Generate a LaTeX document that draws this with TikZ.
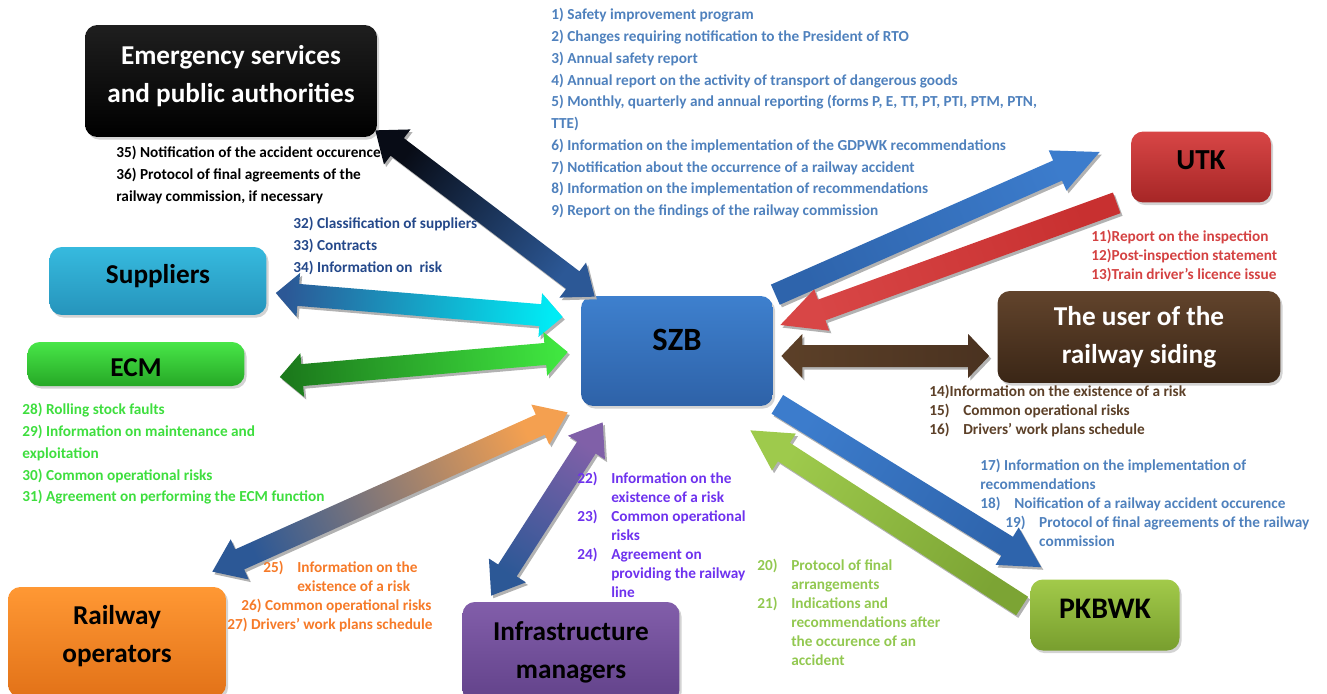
\documentclass[tikz,border=0pt]{standalone}
\usepackage{fontspec}
\setmainfont{Carlito}
\usetikzlibrary{calc, shadows, positioning}

\definecolor{szbTop}{RGB}{62,128,206}
\definecolor{szbBot}{RGB}{46,98,168}
\definecolor{suppTop}{RGB}{54,186,222}
\definecolor{suppBot}{RGB}{38,148,188}
\definecolor{ecmTop}{RGB}{72,230,72}
\definecolor{ecmBot}{RGB}{38,168,38}
\definecolor{operTop}{RGB}{255,152,52}
\definecolor{operBot}{RGB}{226,114,24}
\definecolor{infraTop}{RGB}{130,94,170}
\definecolor{infraBot}{RGB}{98,66,138}
\definecolor{utkTop}{RGB}{216,70,70}
\definecolor{utkBot}{RGB}{166,38,38}
\definecolor{userTop}{RGB}{98,68,44}
\definecolor{userBot}{RGB}{58,38,22}
\definecolor{pkbTop}{RGB}{162,202,74}
\definecolor{pkbBot}{RGB}{120,158,46}

\definecolor{txtBlue}{RGB}{79,129,189}
\definecolor{txtNavy}{RGB}{36,72,138}
\definecolor{txtGreen}{RGB}{62,222,62}
\definecolor{txtOrange}{RGB}{246,122,40}
\definecolor{txtViolet}{RGB}{110,50,238}
\definecolor{txtLime}{RGB}{146,200,80}
\definecolor{txtRed}{RGB}{212,66,66}
\definecolor{txtBrown}{RGB}{92,64,40}

\definecolor{arBlack}{RGB}{8,12,22}
\definecolor{arNavy}{RGB}{44,88,150}
\definecolor{arCyan}{RGB}{0,236,245}
\definecolor{arDkGreen}{RGB}{28,122,28}
\definecolor{arGreen}{RGB}{64,230,64}
\definecolor{arOrange}{RGB}{244,160,80}
\definecolor{arViolet}{RGB}{128,96,168}
\definecolor{arBlue}{RGB}{60,124,204}
\definecolor{arBlueDk}{RGB}{46,100,172}
\definecolor{arRed}{RGB}{200,48,48}
\definecolor{arRedLt}{RGB}{216,70,70}
\definecolor{arBrown}{RGB}{74,50,32}
\definecolor{arBrownLt}{RGB}{92,64,40}
\definecolor{arLime}{RGB}{124,164,52}
\definecolor{arLimeLt}{RGB}{158,202,76}

\newcommand{\headwd}{0.44cm}
\newcommand{\shaftwd}{0.22cm}
\newcommand{\num}[1]{\makebox[19.3pt][l]{#1}}
\newcommand{\ind}{\hspace*{19.3pt}}

% block arrow with two heads: [head length] colour at start, colour at end, start, end
\newcommand{\twoway}[5][0.5cm]{%
  \coordinate (ar-a) at #4;
  \coordinate (ar-b) at #5;
  \coordinate (ar-c) at ($(ar-a)!#1!(ar-b)$);
  \coordinate (ar-d) at ($(ar-b)!#1!(ar-a)$);
  \coordinate (ar-1) at ($(ar-c)!\headwd!90:(ar-b)$);
  \coordinate (ar-2) at ($(ar-c)!\shaftwd!90:(ar-b)$);
  \coordinate (ar-3) at ($(ar-d)!\shaftwd!-90:(ar-a)$);
  \coordinate (ar-4) at ($(ar-d)!\headwd!-90:(ar-a)$);
  \coordinate (ar-5) at ($(ar-d)!\headwd!90:(ar-a)$);
  \coordinate (ar-6) at ($(ar-d)!\shaftwd!90:(ar-a)$);
  \coordinate (ar-7) at ($(ar-c)!\shaftwd!-90:(ar-b)$);
  \coordinate (ar-8) at ($(ar-c)!\headwd!-90:(ar-b)$);
  \pgfmathanglebetweenpoints{\pgfpointanchor{ar-a}{center}}{\pgfpointanchor{ar-b}{center}}%
  \pgfmathsetmacro\arang{\pgfmathresult+90}%
  \fill[arshadow] (ar-a) -- (ar-1) -- (ar-2) -- (ar-3) -- (ar-4) -- (ar-b) -- (ar-5) -- (ar-6) -- (ar-7) -- (ar-8) -- cycle;
  \shade[top color=#2, bottom color=#3, shading angle=\arang] (ar-a) -- (ar-1) -- (ar-2) -- (ar-3) -- (ar-4) -- (ar-b) -- (ar-5) -- (ar-6) -- (ar-7) -- (ar-8) -- cycle;
}

% block arrow with one head at the end
\newcommand{\oneway}[5][0.85cm]{%
  \coordinate (ar-a) at #4;
  \coordinate (ar-b) at #5;
  \coordinate (ar-d) at ($(ar-b)!#1!(ar-a)$);
  \coordinate (ar-1) at ($(ar-a)!\shaftwd!90:(ar-b)$);
  \coordinate (ar-2) at ($(ar-d)!\shaftwd!-90:(ar-a)$);
  \coordinate (ar-3) at ($(ar-d)!\headwd!-90:(ar-a)$);
  \coordinate (ar-4) at ($(ar-d)!\headwd!90:(ar-a)$);
  \coordinate (ar-5) at ($(ar-d)!\shaftwd!90:(ar-a)$);
  \coordinate (ar-6) at ($(ar-a)!\shaftwd!-90:(ar-b)$);
  \pgfmathanglebetweenpoints{\pgfpointanchor{ar-a}{center}}{\pgfpointanchor{ar-b}{center}}%
  \pgfmathsetmacro\arang{\pgfmathresult+90}%
  \fill[arshadow] (ar-1) -- (ar-2) -- (ar-3) -- (ar-b) -- (ar-4) -- (ar-5) -- (ar-6) -- cycle;
  \shade[top color=#2, bottom color=#3, shading angle=\arang] (ar-1) -- (ar-2) -- (ar-3) -- (ar-b) -- (ar-4) -- (ar-5) -- (ar-6) -- cycle;
}

\begin{document}
\begin{tikzpicture}[
    x=0.02cm, y=-0.02cm,
    box/.style={rectangle, rounded corners=7pt, inner sep=2pt, align=center, font=\fontsize{15.5}{21.6}\selectfont\bfseries, drop shadow={opacity=0.35, shadow xshift=1.2pt, shadow yshift=-1.5pt}},
    note/.style={anchor=north west, align=left, inner sep=0pt, font=\fontsize{8.7}{10.8}\selectfont\bfseries},
    widenote/.style={note, font=\fontsize{8.7}{12.4}\selectfont\bfseries},
    arshadow/.style={fill=black!30, transform canvas={xshift=1.2pt, yshift=-1.5pt}}
]
    \useasboundingbox (0,0) rectangle (1327,693);

    % Nodes
    \node[box, top color=black!88, bottom color=black, text=white, minimum width=5.84cm, minimum height=2.24cm, text depth=8pt] (emerg) at (231,81) {Emergency services\\and public authorities};
    \node[box, top color=suppTop, bottom color=suppBot, minimum width=4.34cm, minimum height=1.36cm, text depth=8.5pt] (supp) at (158,281) {Suppliers};
    \node[box, top color=ecmTop, bottom color=ecmBot, minimum width=4.34cm, minimum height=0.88cm, text height=14.6pt] (ecm) at (136,364) {ECM};
    \node[box, top color=operTop, bottom color=operBot, minimum width=4.36cm, minimum height=2.2cm, text depth=9.5pt] (oper) at (117,642) {Railway\\operators};
    \node[box, top color=infraTop, bottom color=infraBot, minimum width=4.34cm, minimum height=2.0cm] (infra) at (571,652) {Infrastructure\\managers};
    \node[box, top color=szbTop, bottom color=szbBot, minimum width=3.84cm, minimum height=2.2cm, font=\fontsize{18.5}{22}\selectfont\bfseries, text depth=12.6pt] (szb) at (677,351) {SZB};
    \node[box, top color=utkTop, bottom color=utkBot, minimum width=2.8cm, minimum height=1.42cm, font=\fontsize{16.5}{20}\selectfont\bfseries, text depth=8pt] (utk) at (1201,167) {UTK};
    \node[box, top color=userTop, bottom color=userBot, text=white, minimum width=5.66cm, minimum height=1.84cm] (user) at (1139,337) {The user of the\\railway siding};
    \node[box, top color=pkbTop, bottom color=pkbBot, minimum width=2.98cm, minimum height=1.42cm, font=\fontsize{17}{20}\selectfont\bfseries, text depth=6.8pt] (pkbwk) at (1105,615) {PKBWK};

    % Connections
    \twoway[0.55cm]{arBlack}{arNavy}{($(emerg.south east)+(-2,-7)$)}{($(szb.north west)+(14,1)$)}
    \twoway[0.45cm]{arNavy}{arCyan}{($(supp.east)+(9,12)$)}{($(szb.west)+(-18,-34)$)}
    \twoway[0.45cm]{arDkGreen}{arGreen}{($(ecm.east)+(35,13)$)}{($(szb.west)+(-13,1)$)}
    \twoway[0.6cm]{arNavy}{arOrange}{($(oper.north east)+(-14,-15)$)}{($(szb.south west)+(-13,6)$)}
    \twoway[0.6cm]{arNavy}{arViolet}{($(infra.north west)+(29,-6)$)}{($(szb.south west)+(22,16)$)}
    \oneway[0.92cm]{arBlueDk}{arBlue}{($(szb.north east)+(2,-1)$)}{($(utk.west)+(-31,-15)$)}
    \oneway[0.88cm]{arRed}{arRedLt}{($(utk.south west)+(-14,0)$)}{($(szb.east)+(7,-26)$)}
    \twoway[0.42cm]{arBrownLt}{arBrown}{($(szb.east)+(8,5)$)}{($(user.west)+(-8,19)$)}
    \oneway[0.8cm]{arBlue}{arBlueDk}{($(szb.south east)+(4,-2)$)}{($(pkbwk.north west)+(11,-12)$)}
    \oneway[0.8cm]{arLime}{arLimeLt}{($(pkbwk.west)+(-8,-9)$)}{($(szb.south east)+(-23,24)$)}

    % Labels
    \node[widenote, text=txtBlue] (lbl-szb) at (551,8) {1) Safety improvement program\\
        2) Changes requiring notification to the President of RTO\\
        3) Annual safety report\\
        4) Annual report on the activity of transport of dangerous goods\\
        5) Monthly, quarterly and annual reporting (forms P, E, TT, PT, PTI, PTM, PTN,\\
        TTE)\\
        6) Information on the implementation of the GDPWK recommendations\\
        7) Notification about the occurrence of a railway accident\\
        8) Information on the implementation of recommendations\\
        9) Report on the findings of the railway commission};
    \node[widenote, text=black] (lbl-emerg) at (116,146) {35) Notification of the accident occurence\\
        36) Protocol of final agreements of the\\
        railway commission, if necessary};
    \node[widenote, text=txtNavy] (lbl-supp) at (293,217) {32) Classification of suppliers\\
        33) Contracts\\
        34) Information on~ risk};
    \node[widenote, text=txtGreen] (lbl-ecm) at (22,403) {28) Rolling stock faults\\
        29) Information on maintenance and\\
        exploitation\\
        30) Common operational risks\\
        31) Agreement on performing the ECM function};
    \node[note, text=txtOrange] (lbl-oper) at (227,561) {\hspace*{20.5pt}\num{25)}Information on the\\
        \hspace*{39.8pt}existence of a risk\\
        \hspace*{8pt}26) Common operational risks\\
        27) Drivers’ work plans schedule};
    \node[note, text=txtViolet] (lbl-infra) at (577,472) {\num{22)}Information on the\\
        \ind existence of a risk\\
        \num{23)}Common operational\\
        \ind risks\\
        \num{24)}Agreement on\\
        \ind providing the railway\\
        \ind line};
    \node[note, text=txtLime] (lbl-pkb) at (757,559) {\num{20)}Protocol of final\\
        \ind arrangements\\
        \num{21)}Indications and\\
        \ind recommendations after\\
        \ind the occurence of an\\
        \ind accident};
    \node[note, text=txtBlue] (lbl-szbpkb) at (980,459) {17) Information on the implementation of\\
        recommendations\\
        \num{18)}Noification of a railway accident occurence\\
        \hspace*{14.2pt}\num{19)}Protocol of final agreements of the railway\\
        \hspace*{33.5pt}commission};
    \node[note, text=txtRed] (lbl-utk) at (1091,230) {11)Report on the inspection\\
        12)Post-inspection statement\\
        13)Train driver’s licence issue};
    \node[note, text=txtBrown] (lbl-user) at (929,385) {14)Information on the existence of a risk\\
        \num{15)}Common operational risks\\
        \num{16)}Drivers’ work plans schedule};
\end{tikzpicture}
\end{document}
